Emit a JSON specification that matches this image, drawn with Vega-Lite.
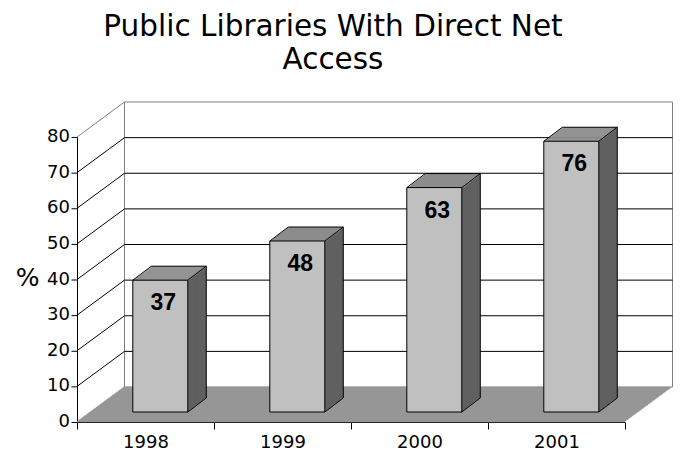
{
"$schema":"https://vega.github.io/schema/vega-lite/v6.json",
"width":548,"height":285,
"autosize":{"type":"none"},
"padding":{"left":77,"top":137,"right":55,"bottom":33},
"background":"white",
"config":{"view":{"stroke":null},"font":"DejaVu Sans","axis":{"labelOverlap":false}},
"title":{"text":["Public Libraries With Direct Net","Access"],"font":"DejaVu Sans","fontSize":29.5,"fontWeight":"normal","color":"black","lineHeight":33,"anchor":"middle","frame":"group","dx":-18,"offset":26},
"datasets":{
"bars":[{"year":1998,"pct":37},{"year":1999,"pct":48},{"year":2000,"pct":63},{"year":2001,"pct":76}],
"grid":[{"v":10},{"v":20},{"v":30},{"v":40},{"v":50},{"v":60},{"v":70}],
"yticks":[{"v":0},{"v":10},{"v":20},{"v":30},{"v":40},{"v":50},{"v":60},{"v":70},{"v":80}],
"one":[{"f":0}]
},
"data":{"name":"bars"},
"layer":[
{"data":{"name":"one"},"mark":{"type":"rect","fill":"white","stroke":"#808080","strokeWidth":1,"xOffset":47.5,"x2Offset":47.5,"yOffset":-35,"y2Offset":-35},
"encoding":{
"x":{"datum":1997.5,"type":"quantitative","scale":{"domain":[1997.5,2001.5],"nice":false,"zero":false},
"axis":{"values":[1997.5,1998.5,1999.5,2000.5,2001.5],"labelExpr":"datum.value < 2001 ? toString(datum.value + 0.5) : ''","labelOffset":68.5,"labelFlush":false,"labelOverlap":false,"labelBound":false,"tickSize":7,"tickColor":"black","domainColor":"black","labelColor":"black","labelFont":"DejaVu Sans","labelFontSize":18,"labelPadding":4,"title":null,"grid":false}},
"x2":{"datum":2001.5},
"y":{"datum":80,"type":"quantitative","scale":{"domain":[0,80],"nice":false,"zero":true},
"axis":{"labels":false,"ticks":false,"domainColor":"black","grid":false,"title":"%","titleAngle":0,"titleFont":"DejaVu Sans","titleFontSize":25,"titleFontWeight":"normal","titleColor":"black","titleX":-50,"titleY":140.5,"titleAlign":"center","titleBaseline":"middle"}},
"y2":{"datum":0}}},
{"data":{"name":"one"},"mark":{"type":"rule","color":"#969696","strokeWidth":1.6,"xOffset":0,"x2Offset":0,"yOffset":-0.5,"y2Offset":-0.5},"encoding":{"x":{"datum":1997.5,"type":"quantitative"},"x2":{"datum":2001.5},"y":{"datum":0,"type":"quantitative"},"y2":{"datum":0}}},
{"data":{"name":"one"},"mark":{"type":"rule","color":"#969696","strokeWidth":1.6,"xOffset":1.36,"x2Offset":1.36,"yOffset":-1.5,"y2Offset":-1.5},"encoding":{"x":{"datum":1997.5,"type":"quantitative"},"x2":{"datum":2001.5},"y":{"datum":0,"type":"quantitative"},"y2":{"datum":0}}},
{"data":{"name":"one"},"mark":{"type":"rule","color":"#969696","strokeWidth":1.6,"xOffset":2.71,"x2Offset":2.71,"yOffset":-2.5,"y2Offset":-2.5},"encoding":{"x":{"datum":1997.5,"type":"quantitative"},"x2":{"datum":2001.5},"y":{"datum":0,"type":"quantitative"},"y2":{"datum":0}}},
{"data":{"name":"one"},"mark":{"type":"rule","color":"#969696","strokeWidth":1.6,"xOffset":4.07,"x2Offset":4.07,"yOffset":-3.5,"y2Offset":-3.5},"encoding":{"x":{"datum":1997.5,"type":"quantitative"},"x2":{"datum":2001.5},"y":{"datum":0,"type":"quantitative"},"y2":{"datum":0}}},
{"data":{"name":"one"},"mark":{"type":"rule","color":"#969696","strokeWidth":1.6,"xOffset":5.43,"x2Offset":5.43,"yOffset":-4.5,"y2Offset":-4.5},"encoding":{"x":{"datum":1997.5,"type":"quantitative"},"x2":{"datum":2001.5},"y":{"datum":0,"type":"quantitative"},"y2":{"datum":0}}},
{"data":{"name":"one"},"mark":{"type":"rule","color":"#969696","strokeWidth":1.6,"xOffset":6.79,"x2Offset":6.79,"yOffset":-5.5,"y2Offset":-5.5},"encoding":{"x":{"datum":1997.5,"type":"quantitative"},"x2":{"datum":2001.5},"y":{"datum":0,"type":"quantitative"},"y2":{"datum":0}}},
{"data":{"name":"one"},"mark":{"type":"rule","color":"#969696","strokeWidth":1.6,"xOffset":8.14,"x2Offset":8.14,"yOffset":-6.5,"y2Offset":-6.5},"encoding":{"x":{"datum":1997.5,"type":"quantitative"},"x2":{"datum":2001.5},"y":{"datum":0,"type":"quantitative"},"y2":{"datum":0}}},
{"data":{"name":"one"},"mark":{"type":"rule","color":"#969696","strokeWidth":1.6,"xOffset":9.5,"x2Offset":9.5,"yOffset":-7.5,"y2Offset":-7.5},"encoding":{"x":{"datum":1997.5,"type":"quantitative"},"x2":{"datum":2001.5},"y":{"datum":0,"type":"quantitative"},"y2":{"datum":0}}},
{"data":{"name":"one"},"mark":{"type":"rule","color":"#969696","strokeWidth":1.6,"xOffset":10.86,"x2Offset":10.86,"yOffset":-8.5,"y2Offset":-8.5},"encoding":{"x":{"datum":1997.5,"type":"quantitative"},"x2":{"datum":2001.5},"y":{"datum":0,"type":"quantitative"},"y2":{"datum":0}}},
{"data":{"name":"one"},"mark":{"type":"rule","color":"#969696","strokeWidth":1.6,"xOffset":12.21,"x2Offset":12.21,"yOffset":-9.5,"y2Offset":-9.5},"encoding":{"x":{"datum":1997.5,"type":"quantitative"},"x2":{"datum":2001.5},"y":{"datum":0,"type":"quantitative"},"y2":{"datum":0}}},
{"data":{"name":"one"},"mark":{"type":"rule","color":"#969696","strokeWidth":1.6,"xOffset":13.57,"x2Offset":13.57,"yOffset":-10.5,"y2Offset":-10.5},"encoding":{"x":{"datum":1997.5,"type":"quantitative"},"x2":{"datum":2001.5},"y":{"datum":0,"type":"quantitative"},"y2":{"datum":0}}},
{"data":{"name":"one"},"mark":{"type":"rule","color":"#969696","strokeWidth":1.6,"xOffset":14.93,"x2Offset":14.93,"yOffset":-11.5,"y2Offset":-11.5},"encoding":{"x":{"datum":1997.5,"type":"quantitative"},"x2":{"datum":2001.5},"y":{"datum":0,"type":"quantitative"},"y2":{"datum":0}}},
{"data":{"name":"one"},"mark":{"type":"rule","color":"#969696","strokeWidth":1.6,"xOffset":16.29,"x2Offset":16.29,"yOffset":-12.5,"y2Offset":-12.5},"encoding":{"x":{"datum":1997.5,"type":"quantitative"},"x2":{"datum":2001.5},"y":{"datum":0,"type":"quantitative"},"y2":{"datum":0}}},
{"data":{"name":"one"},"mark":{"type":"rule","color":"#969696","strokeWidth":1.6,"xOffset":17.64,"x2Offset":17.64,"yOffset":-13.5,"y2Offset":-13.5},"encoding":{"x":{"datum":1997.5,"type":"quantitative"},"x2":{"datum":2001.5},"y":{"datum":0,"type":"quantitative"},"y2":{"datum":0}}},
{"data":{"name":"one"},"mark":{"type":"rule","color":"#969696","strokeWidth":1.6,"xOffset":19,"x2Offset":19,"yOffset":-14.5,"y2Offset":-14.5},"encoding":{"x":{"datum":1997.5,"type":"quantitative"},"x2":{"datum":2001.5},"y":{"datum":0,"type":"quantitative"},"y2":{"datum":0}}},
{"data":{"name":"one"},"mark":{"type":"rule","color":"#969696","strokeWidth":1.6,"xOffset":20.36,"x2Offset":20.36,"yOffset":-15.5,"y2Offset":-15.5},"encoding":{"x":{"datum":1997.5,"type":"quantitative"},"x2":{"datum":2001.5},"y":{"datum":0,"type":"quantitative"},"y2":{"datum":0}}},
{"data":{"name":"one"},"mark":{"type":"rule","color":"#969696","strokeWidth":1.6,"xOffset":21.71,"x2Offset":21.71,"yOffset":-16.5,"y2Offset":-16.5},"encoding":{"x":{"datum":1997.5,"type":"quantitative"},"x2":{"datum":2001.5},"y":{"datum":0,"type":"quantitative"},"y2":{"datum":0}}},
{"data":{"name":"one"},"mark":{"type":"rule","color":"#969696","strokeWidth":1.6,"xOffset":23.07,"x2Offset":23.07,"yOffset":-17.5,"y2Offset":-17.5},"encoding":{"x":{"datum":1997.5,"type":"quantitative"},"x2":{"datum":2001.5},"y":{"datum":0,"type":"quantitative"},"y2":{"datum":0}}},
{"data":{"name":"one"},"mark":{"type":"rule","color":"#969696","strokeWidth":1.6,"xOffset":24.43,"x2Offset":24.43,"yOffset":-18.5,"y2Offset":-18.5},"encoding":{"x":{"datum":1997.5,"type":"quantitative"},"x2":{"datum":2001.5},"y":{"datum":0,"type":"quantitative"},"y2":{"datum":0}}},
{"data":{"name":"one"},"mark":{"type":"rule","color":"#969696","strokeWidth":1.6,"xOffset":25.79,"x2Offset":25.79,"yOffset":-19.5,"y2Offset":-19.5},"encoding":{"x":{"datum":1997.5,"type":"quantitative"},"x2":{"datum":2001.5},"y":{"datum":0,"type":"quantitative"},"y2":{"datum":0}}},
{"data":{"name":"one"},"mark":{"type":"rule","color":"#969696","strokeWidth":1.6,"xOffset":27.14,"x2Offset":27.14,"yOffset":-20.5,"y2Offset":-20.5},"encoding":{"x":{"datum":1997.5,"type":"quantitative"},"x2":{"datum":2001.5},"y":{"datum":0,"type":"quantitative"},"y2":{"datum":0}}},
{"data":{"name":"one"},"mark":{"type":"rule","color":"#969696","strokeWidth":1.6,"xOffset":28.5,"x2Offset":28.5,"yOffset":-21.5,"y2Offset":-21.5},"encoding":{"x":{"datum":1997.5,"type":"quantitative"},"x2":{"datum":2001.5},"y":{"datum":0,"type":"quantitative"},"y2":{"datum":0}}},
{"data":{"name":"one"},"mark":{"type":"rule","color":"#969696","strokeWidth":1.6,"xOffset":29.86,"x2Offset":29.86,"yOffset":-22.5,"y2Offset":-22.5},"encoding":{"x":{"datum":1997.5,"type":"quantitative"},"x2":{"datum":2001.5},"y":{"datum":0,"type":"quantitative"},"y2":{"datum":0}}},
{"data":{"name":"one"},"mark":{"type":"rule","color":"#969696","strokeWidth":1.6,"xOffset":31.21,"x2Offset":31.21,"yOffset":-23.5,"y2Offset":-23.5},"encoding":{"x":{"datum":1997.5,"type":"quantitative"},"x2":{"datum":2001.5},"y":{"datum":0,"type":"quantitative"},"y2":{"datum":0}}},
{"data":{"name":"one"},"mark":{"type":"rule","color":"#969696","strokeWidth":1.6,"xOffset":32.57,"x2Offset":32.57,"yOffset":-24.5,"y2Offset":-24.5},"encoding":{"x":{"datum":1997.5,"type":"quantitative"},"x2":{"datum":2001.5},"y":{"datum":0,"type":"quantitative"},"y2":{"datum":0}}},
{"data":{"name":"one"},"mark":{"type":"rule","color":"#969696","strokeWidth":1.6,"xOffset":33.93,"x2Offset":33.93,"yOffset":-25.5,"y2Offset":-25.5},"encoding":{"x":{"datum":1997.5,"type":"quantitative"},"x2":{"datum":2001.5},"y":{"datum":0,"type":"quantitative"},"y2":{"datum":0}}},
{"data":{"name":"one"},"mark":{"type":"rule","color":"#969696","strokeWidth":1.6,"xOffset":35.29,"x2Offset":35.29,"yOffset":-26.5,"y2Offset":-26.5},"encoding":{"x":{"datum":1997.5,"type":"quantitative"},"x2":{"datum":2001.5},"y":{"datum":0,"type":"quantitative"},"y2":{"datum":0}}},
{"data":{"name":"one"},"mark":{"type":"rule","color":"#969696","strokeWidth":1.6,"xOffset":36.64,"x2Offset":36.64,"yOffset":-27.5,"y2Offset":-27.5},"encoding":{"x":{"datum":1997.5,"type":"quantitative"},"x2":{"datum":2001.5},"y":{"datum":0,"type":"quantitative"},"y2":{"datum":0}}},
{"data":{"name":"one"},"mark":{"type":"rule","color":"#969696","strokeWidth":1.6,"xOffset":38,"x2Offset":38,"yOffset":-28.5,"y2Offset":-28.5},"encoding":{"x":{"datum":1997.5,"type":"quantitative"},"x2":{"datum":2001.5},"y":{"datum":0,"type":"quantitative"},"y2":{"datum":0}}},
{"data":{"name":"one"},"mark":{"type":"rule","color":"#969696","strokeWidth":1.6,"xOffset":39.36,"x2Offset":39.36,"yOffset":-29.5,"y2Offset":-29.5},"encoding":{"x":{"datum":1997.5,"type":"quantitative"},"x2":{"datum":2001.5},"y":{"datum":0,"type":"quantitative"},"y2":{"datum":0}}},
{"data":{"name":"one"},"mark":{"type":"rule","color":"#969696","strokeWidth":1.6,"xOffset":40.71,"x2Offset":40.71,"yOffset":-30.5,"y2Offset":-30.5},"encoding":{"x":{"datum":1997.5,"type":"quantitative"},"x2":{"datum":2001.5},"y":{"datum":0,"type":"quantitative"},"y2":{"datum":0}}},
{"data":{"name":"one"},"mark":{"type":"rule","color":"#969696","strokeWidth":1.6,"xOffset":42.07,"x2Offset":42.07,"yOffset":-31.5,"y2Offset":-31.5},"encoding":{"x":{"datum":1997.5,"type":"quantitative"},"x2":{"datum":2001.5},"y":{"datum":0,"type":"quantitative"},"y2":{"datum":0}}},
{"data":{"name":"one"},"mark":{"type":"rule","color":"#969696","strokeWidth":1.6,"xOffset":43.43,"x2Offset":43.43,"yOffset":-32.5,"y2Offset":-32.5},"encoding":{"x":{"datum":1997.5,"type":"quantitative"},"x2":{"datum":2001.5},"y":{"datum":0,"type":"quantitative"},"y2":{"datum":0}}},
{"data":{"name":"one"},"mark":{"type":"rule","color":"#969696","strokeWidth":1.6,"xOffset":44.79,"x2Offset":44.79,"yOffset":-33.5,"y2Offset":-33.5},"encoding":{"x":{"datum":1997.5,"type":"quantitative"},"x2":{"datum":2001.5},"y":{"datum":0,"type":"quantitative"},"y2":{"datum":0}}},
{"data":{"name":"one"},"mark":{"type":"rule","color":"#969696","strokeWidth":1.6,"xOffset":46.14,"x2Offset":46.14,"yOffset":-34.5,"y2Offset":-34.5},"encoding":{"x":{"datum":1997.5,"type":"quantitative"},"x2":{"datum":2001.5},"y":{"datum":0,"type":"quantitative"},"y2":{"datum":0}}},
{"data":{"name":"grid"},"mark":{"type":"rule","color":"black","strokeWidth":1,"xOffset":47.5,"x2Offset":47.5,"yOffset":-35,"y2Offset":-35},"encoding":{"x":{"datum":1997.5,"type":"quantitative"},"x2":{"datum":2001.5},"y":{"field":"v","type":"quantitative"},"y2":{"field":"v"}}},
{"data":{"name":"grid"},"mark":{"type":"rule","color":"black","strokeWidth":1,"xOffset":0,"x2Offset":47.5,"yOffset":0,"y2Offset":-35},"encoding":{"x":{"datum":1997.5,"type":"quantitative"},"x2":{"datum":1997.5},"y":{"field":"v","type":"quantitative"},"y2":{"field":"v"}}},
{"data":{"name":"one"},"mark":{"type":"rule","color":"#808080","strokeWidth":1,"xOffset":0,"x2Offset":47.5,"yOffset":0,"y2Offset":-35},"encoding":{"x":{"datum":1997.5,"type":"quantitative"},"x2":{"datum":1997.5},"y":{"datum":80,"type":"quantitative"},"y2":{"datum":80}}},
{"data":{"name":"yticks"},"mark":{"type":"rule","color":"black","strokeWidth":1,"xOffset":-5.5,"x2Offset":0.5,"yOffset":0.5,"y2Offset":0.5},"encoding":{"x":{"datum":1997.5,"type":"quantitative"},"x2":{"datum":1997.5},"y":{"field":"v","type":"quantitative"},"y2":{"field":"v"}}},
{"data":{"name":"yticks"},"mark":{"type":"text","font":"DejaVu Sans","fontSize":18,"color":"black","align":"right","baseline":"middle","xOffset":-7},"encoding":{"x":{"datum":1997.5,"type":"quantitative"},"y":{"field":"v","type":"quantitative"},"text":{"field":"v","type":"quantitative"}}},
{"mark":{"type":"rect","fill":"#606060","xOffset":40.62,"x2Offset":43.62,"yOffset":-11,"y2Offset":-11},"encoding":{"x":{"field":"year","type":"quantitative"},"x2":{"field":"year"},"y":{"field":"pct","type":"quantitative"},"y2":{"datum":0}}},
{"mark":{"type":"rect","fill":"#606060","xOffset":41.94,"x2Offset":44.94,"yOffset":-12,"y2Offset":-12},"encoding":{"x":{"field":"year","type":"quantitative"},"x2":{"field":"year"},"y":{"field":"pct","type":"quantitative"},"y2":{"datum":0}}},
{"mark":{"type":"rect","fill":"#606060","xOffset":43.26,"x2Offset":46.26,"yOffset":-13,"y2Offset":-13},"encoding":{"x":{"field":"year","type":"quantitative"},"x2":{"field":"year"},"y":{"field":"pct","type":"quantitative"},"y2":{"datum":0}}},
{"mark":{"type":"rect","fill":"#606060","xOffset":44.58,"x2Offset":47.58,"yOffset":-14,"y2Offset":-14},"encoding":{"x":{"field":"year","type":"quantitative"},"x2":{"field":"year"},"y":{"field":"pct","type":"quantitative"},"y2":{"datum":0}}},
{"mark":{"type":"rect","fill":"#606060","xOffset":45.9,"x2Offset":48.9,"yOffset":-15,"y2Offset":-15},"encoding":{"x":{"field":"year","type":"quantitative"},"x2":{"field":"year"},"y":{"field":"pct","type":"quantitative"},"y2":{"datum":0}}},
{"mark":{"type":"rect","fill":"#606060","xOffset":47.22,"x2Offset":50.22,"yOffset":-16,"y2Offset":-16},"encoding":{"x":{"field":"year","type":"quantitative"},"x2":{"field":"year"},"y":{"field":"pct","type":"quantitative"},"y2":{"datum":0}}},
{"mark":{"type":"rect","fill":"#606060","xOffset":48.54,"x2Offset":51.54,"yOffset":-17,"y2Offset":-17},"encoding":{"x":{"field":"year","type":"quantitative"},"x2":{"field":"year"},"y":{"field":"pct","type":"quantitative"},"y2":{"datum":0}}},
{"mark":{"type":"rect","fill":"#606060","xOffset":49.86,"x2Offset":52.86,"yOffset":-18,"y2Offset":-18},"encoding":{"x":{"field":"year","type":"quantitative"},"x2":{"field":"year"},"y":{"field":"pct","type":"quantitative"},"y2":{"datum":0}}},
{"mark":{"type":"rect","fill":"#606060","xOffset":51.18,"x2Offset":54.18,"yOffset":-19,"y2Offset":-19},"encoding":{"x":{"field":"year","type":"quantitative"},"x2":{"field":"year"},"y":{"field":"pct","type":"quantitative"},"y2":{"datum":0}}},
{"mark":{"type":"rect","fill":"#606060","xOffset":52.5,"x2Offset":55.5,"yOffset":-20,"y2Offset":-20},"encoding":{"x":{"field":"year","type":"quantitative"},"x2":{"field":"year"},"y":{"field":"pct","type":"quantitative"},"y2":{"datum":0}}},
{"mark":{"type":"rect","fill":"#606060","xOffset":53.82,"x2Offset":56.82,"yOffset":-21,"y2Offset":-21},"encoding":{"x":{"field":"year","type":"quantitative"},"x2":{"field":"year"},"y":{"field":"pct","type":"quantitative"},"y2":{"datum":0}}},
{"mark":{"type":"rect","fill":"#606060","xOffset":55.14,"x2Offset":58.14,"yOffset":-22,"y2Offset":-22},"encoding":{"x":{"field":"year","type":"quantitative"},"x2":{"field":"year"},"y":{"field":"pct","type":"quantitative"},"y2":{"datum":0}}},
{"mark":{"type":"rect","fill":"#606060","xOffset":56.46,"x2Offset":59.46,"yOffset":-23,"y2Offset":-23},"encoding":{"x":{"field":"year","type":"quantitative"},"x2":{"field":"year"},"y":{"field":"pct","type":"quantitative"},"y2":{"datum":0}}},
{"mark":{"type":"rect","fill":"#606060","xOffset":57.78,"x2Offset":60.78,"yOffset":-24,"y2Offset":-24},"encoding":{"x":{"field":"year","type":"quantitative"},"x2":{"field":"year"},"y":{"field":"pct","type":"quantitative"},"y2":{"datum":0}}},
{"mark":{"type":"rect","fill":"#8c8c8c","xOffset":-11.38,"x2Offset":43.62,"yOffset":-11,"y2Offset":-9.4},"encoding":{"x":{"field":"year","type":"quantitative"},"x2":{"field":"year"},"y":{"field":"pct","type":"quantitative"},"y2":{"field":"pct"}}},
{"mark":{"type":"rect","fill":"#8c8c8c","xOffset":-10.06,"x2Offset":44.94,"yOffset":-12,"y2Offset":-10.4},"encoding":{"x":{"field":"year","type":"quantitative"},"x2":{"field":"year"},"y":{"field":"pct","type":"quantitative"},"y2":{"field":"pct"}}},
{"mark":{"type":"rect","fill":"#8c8c8c","xOffset":-8.74,"x2Offset":46.26,"yOffset":-13,"y2Offset":-11.4},"encoding":{"x":{"field":"year","type":"quantitative"},"x2":{"field":"year"},"y":{"field":"pct","type":"quantitative"},"y2":{"field":"pct"}}},
{"mark":{"type":"rect","fill":"#8c8c8c","xOffset":-7.42,"x2Offset":47.58,"yOffset":-14,"y2Offset":-12.4},"encoding":{"x":{"field":"year","type":"quantitative"},"x2":{"field":"year"},"y":{"field":"pct","type":"quantitative"},"y2":{"field":"pct"}}},
{"mark":{"type":"rect","fill":"#8c8c8c","xOffset":-6.1,"x2Offset":48.9,"yOffset":-15,"y2Offset":-13.4},"encoding":{"x":{"field":"year","type":"quantitative"},"x2":{"field":"year"},"y":{"field":"pct","type":"quantitative"},"y2":{"field":"pct"}}},
{"mark":{"type":"rect","fill":"#8c8c8c","xOffset":-4.78,"x2Offset":50.22,"yOffset":-16,"y2Offset":-14.4},"encoding":{"x":{"field":"year","type":"quantitative"},"x2":{"field":"year"},"y":{"field":"pct","type":"quantitative"},"y2":{"field":"pct"}}},
{"mark":{"type":"rect","fill":"#8c8c8c","xOffset":-3.46,"x2Offset":51.54,"yOffset":-17,"y2Offset":-15.4},"encoding":{"x":{"field":"year","type":"quantitative"},"x2":{"field":"year"},"y":{"field":"pct","type":"quantitative"},"y2":{"field":"pct"}}},
{"mark":{"type":"rect","fill":"#8c8c8c","xOffset":-2.14,"x2Offset":52.86,"yOffset":-18,"y2Offset":-16.4},"encoding":{"x":{"field":"year","type":"quantitative"},"x2":{"field":"year"},"y":{"field":"pct","type":"quantitative"},"y2":{"field":"pct"}}},
{"mark":{"type":"rect","fill":"#8c8c8c","xOffset":-0.82,"x2Offset":54.18,"yOffset":-19,"y2Offset":-17.4},"encoding":{"x":{"field":"year","type":"quantitative"},"x2":{"field":"year"},"y":{"field":"pct","type":"quantitative"},"y2":{"field":"pct"}}},
{"mark":{"type":"rect","fill":"#8c8c8c","xOffset":0.5,"x2Offset":55.5,"yOffset":-20,"y2Offset":-18.4},"encoding":{"x":{"field":"year","type":"quantitative"},"x2":{"field":"year"},"y":{"field":"pct","type":"quantitative"},"y2":{"field":"pct"}}},
{"mark":{"type":"rect","fill":"#8c8c8c","xOffset":1.82,"x2Offset":56.82,"yOffset":-21,"y2Offset":-19.4},"encoding":{"x":{"field":"year","type":"quantitative"},"x2":{"field":"year"},"y":{"field":"pct","type":"quantitative"},"y2":{"field":"pct"}}},
{"mark":{"type":"rect","fill":"#8c8c8c","xOffset":3.14,"x2Offset":58.14,"yOffset":-22,"y2Offset":-20.4},"encoding":{"x":{"field":"year","type":"quantitative"},"x2":{"field":"year"},"y":{"field":"pct","type":"quantitative"},"y2":{"field":"pct"}}},
{"mark":{"type":"rect","fill":"#8c8c8c","xOffset":4.46,"x2Offset":59.46,"yOffset":-23,"y2Offset":-21.4},"encoding":{"x":{"field":"year","type":"quantitative"},"x2":{"field":"year"},"y":{"field":"pct","type":"quantitative"},"y2":{"field":"pct"}}},
{"mark":{"type":"rect","fill":"#8c8c8c","xOffset":5.78,"x2Offset":60.78,"yOffset":-24,"y2Offset":-22.4},"encoding":{"x":{"field":"year","type":"quantitative"},"x2":{"field":"year"},"y":{"field":"pct","type":"quantitative"},"y2":{"field":"pct"}}},
{"mark":{"type":"rect","fill":"#c0c0c0","stroke":"black","strokeWidth":1,"xOffset":-12.7,"x2Offset":42.3,"yOffset":-10,"y2Offset":-10},"encoding":{"x":{"field":"year","type":"quantitative"},"x2":{"field":"year"},"y":{"field":"pct","type":"quantitative"},"y2":{"datum":0}}},
{"mark":{"type":"rule","color":"black","strokeWidth":1,"xOffset":5.78,"x2Offset":60.78,"yOffset":-24,"y2Offset":-24},"encoding":{"x":{"field":"year","type":"quantitative"},"x2":{"field":"year"},"y":{"field":"pct","type":"quantitative"},"y2":{"field":"pct"}}},
{"mark":{"type":"rule","color":"black","strokeWidth":1,"xOffset":-12.7,"x2Offset":5.78,"yOffset":-10,"y2Offset":-24},"encoding":{"x":{"field":"year","type":"quantitative"},"x2":{"field":"year"},"y":{"field":"pct","type":"quantitative"},"y2":{"field":"pct"}}},
{"mark":{"type":"rule","color":"black","strokeWidth":1,"xOffset":42.3,"x2Offset":60.78,"yOffset":-10,"y2Offset":-24},"encoding":{"x":{"field":"year","type":"quantitative"},"x2":{"field":"year"},"y":{"field":"pct","type":"quantitative"},"y2":{"field":"pct"}}},
{"mark":{"type":"rule","color":"black","strokeWidth":1,"xOffset":60.78,"x2Offset":60.78,"yOffset":-24,"y2Offset":-24},"encoding":{"x":{"field":"year","type":"quantitative"},"x2":{"field":"year"},"y":{"field":"pct","type":"quantitative"},"y2":{"datum":0}}},
{"mark":{"type":"rule","color":"black","strokeWidth":1,"xOffset":42.3,"x2Offset":60.78,"yOffset":-10,"y2Offset":-24},"encoding":{"x":{"field":"year","type":"quantitative"},"x2":{"field":"year"},"y":{"datum":0,"type":"quantitative"},"y2":{"datum":0}}},
{"mark":{"type":"text","font":"Liberation Sans","fontWeight":"bold","fontSize":23,"color":"black","align":"center","baseline":"alphabetic","xOffset":17.8,"yOffset":20},"encoding":{"x":{"field":"year","type":"quantitative"},"y":{"field":"pct","type":"quantitative"},"text":{"field":"pct","type":"quantitative"}}}
]
}
